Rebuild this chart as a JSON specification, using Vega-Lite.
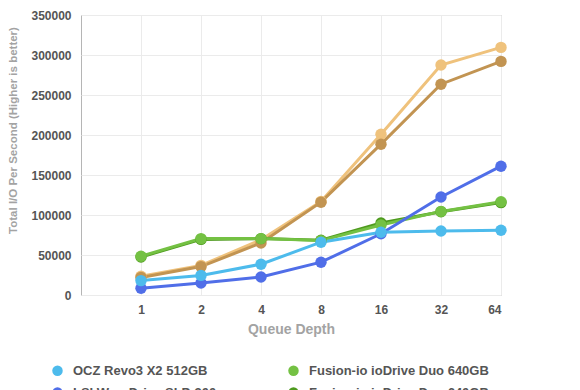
{
  "$schema": "https://vega.github.io/schema/vega-lite/v6.json",
  "width": 420,
  "height": 280,
  "padding": {"left": 7, "top": 9, "right": 5, "bottom": 5},
  "background": "white",
  "config": {
    "font": "Liberation Sans",
    "view": {"stroke": "#b5b5b5", "strokeWidth": 1}
  },
  "data": {
    "values": [
      {"drive": "Intel SSD 910 800GB", "qd": 1, "iops": 23500},
      {"drive": "Intel SSD 910 800GB", "qd": 2, "iops": 37000},
      {"drive": "Intel SSD 910 800GB", "qd": 4, "iops": 69000},
      {"drive": "Intel SSD 910 800GB", "qd": 8, "iops": 117000},
      {"drive": "Intel SSD 910 800GB", "qd": 16, "iops": 201000},
      {"drive": "Intel SSD 910 800GB", "qd": 32, "iops": 287500},
      {"drive": "Intel SSD 910 800GB", "qd": 64, "iops": 309500},
      {"drive": "Intel SSD 910 400GB", "qd": 1, "iops": 22000},
      {"drive": "Intel SSD 910 400GB", "qd": 2, "iops": 35500},
      {"drive": "Intel SSD 910 400GB", "qd": 4, "iops": 65000},
      {"drive": "Intel SSD 910 400GB", "qd": 8, "iops": 116000},
      {"drive": "Intel SSD 910 400GB", "qd": 16, "iops": 188500},
      {"drive": "Intel SSD 910 400GB", "qd": 32, "iops": 263500},
      {"drive": "Intel SSD 910 400GB", "qd": 64, "iops": 292000},
      {"drive": "Fusion-io ioDrive Duo 640GB ", "qd": 1, "iops": 47500},
      {"drive": "Fusion-io ioDrive Duo 640GB ", "qd": 2, "iops": 69500},
      {"drive": "Fusion-io ioDrive Duo 640GB ", "qd": 4, "iops": 70500},
      {"drive": "Fusion-io ioDrive Duo 640GB ", "qd": 8, "iops": 68500},
      {"drive": "Fusion-io ioDrive Duo 640GB ", "qd": 16, "iops": 90000},
      {"drive": "Fusion-io ioDrive Duo 640GB ", "qd": 32, "iops": 104000},
      {"drive": "Fusion-io ioDrive Duo 640GB ", "qd": 64, "iops": 115500},
      {"drive": "Fusion-io ioDrive Duo 640GB", "qd": 1, "iops": 48500},
      {"drive": "Fusion-io ioDrive Duo 640GB", "qd": 2, "iops": 70500},
      {"drive": "Fusion-io ioDrive Duo 640GB", "qd": 4, "iops": 70500},
      {"drive": "Fusion-io ioDrive Duo 640GB", "qd": 8, "iops": 68000},
      {"drive": "Fusion-io ioDrive Duo 640GB", "qd": 16, "iops": 87500},
      {"drive": "Fusion-io ioDrive Duo 640GB", "qd": 32, "iops": 104500},
      {"drive": "Fusion-io ioDrive Duo 640GB", "qd": 64, "iops": 116500},
      {"drive": "LSI WarpDrive SLP-300", "qd": 1, "iops": 8500},
      {"drive": "LSI WarpDrive SLP-300", "qd": 2, "iops": 15000},
      {"drive": "LSI WarpDrive SLP-300", "qd": 4, "iops": 22500},
      {"drive": "LSI WarpDrive SLP-300", "qd": 8, "iops": 41000},
      {"drive": "LSI WarpDrive SLP-300", "qd": 16, "iops": 76500},
      {"drive": "LSI WarpDrive SLP-300", "qd": 32, "iops": 122500},
      {"drive": "LSI WarpDrive SLP-300", "qd": 64, "iops": 161000},
      {"drive": "OCZ Revo3 X2 512GB", "qd": 1, "iops": 18000},
      {"drive": "OCZ Revo3 X2 512GB", "qd": 2, "iops": 24500},
      {"drive": "OCZ Revo3 X2 512GB", "qd": 4, "iops": 38500},
      {"drive": "OCZ Revo3 X2 512GB", "qd": 8, "iops": 66000},
      {"drive": "OCZ Revo3 X2 512GB", "qd": 16, "iops": 78500},
      {"drive": "OCZ Revo3 X2 512GB", "qd": 32, "iops": 80000},
      {"drive": "OCZ Revo3 X2 512GB", "qd": 64, "iops": 81000}
    ]
  },
  "mark": {"type": "line", "strokeWidth": 3, "point": {"filled": true, "size": 130, "opacity": 1}},
  "encoding": {
    "x": {
      "field": "qd",
      "type": "quantitative",
      "scale": {"type": "log", "base": 2, "domain": [0.5, 64], "nice": false},
      "axis": {
        "values": [1, 2, 4, 8, 16, 32, 64],
        "format": "d",
        "title": "Queue Depth",
        "domain": false,
        "ticks": false,
        "grid": true,
        "gridColor": "#ebebeb",
        "labelPadding": 9,
        "labelFont": "Liberation Sans",
        "labelFontSize": 12,
        "labelFontWeight": "bold",
        "labelColor": "#555555",
        "titleFont": "Liberation Sans",
        "titleFontSize": 14,
        "titleFontWeight": "bold",
        "titleColor": "#a3a3a3",
        "titlePadding": 7
      }
    },
    "y": {
      "field": "iops",
      "type": "quantitative",
      "scale": {"domain": [0, 350000], "nice": false},
      "axis": {
        "values": [0, 50000, 100000, 150000, 200000, 250000, 300000, 350000],
        "format": "d",
        "title": "Total I/O Per Second  (Higher is better)",
        "domain": false,
        "ticks": false,
        "grid": true,
        "gridColor": "#ebebeb",
        "labelPadding": 10,
        "labelFont": "Liberation Sans",
        "labelFontSize": 12,
        "labelFontWeight": "bold",
        "labelColor": "#555555",
        "titleFont": "Liberation Sans",
        "titleFontSize": 11.5,
        "titleFontWeight": "bold",
        "titleColor": "#a3a3a3",
        "titleY": 115,
        "titlePadding": 12
      }
    },
    "color": {
      "field": "drive",
      "type": "nominal",
      "scale": {
        "domain": ["OCZ Revo3 X2 512GB", "LSI WarpDrive SLP-300", "Intel SSD 910 800GB", "Fusion-io ioDrive Duo 640GB", "Fusion-io ioDrive Duo 640GB ", "Intel SSD 910 400GB"],
        "range": ["#4dbbec", "#506ee8", "#efc27c", "#74c143", "#4e9a1e", "#c29452"]
      },
      "legend": {
        "orient": "none",
        "legendX": -30,
        "legendY": 349,
        "title": null,
        "columns": 2,
        "columnPadding": 70,
        "rowPadding": 8,
        "symbolType": "circle",
        "symbolSize": 110,
        "symbolStrokeWidth": 0,
        "labelOffset": 9,
        "labelFont": "Liberation Sans",
        "labelFontSize": 13,
        "labelFontWeight": "bold",
        "labelColor": "#555555",
        "labelLimit": 250
      }
    }
  }
}
